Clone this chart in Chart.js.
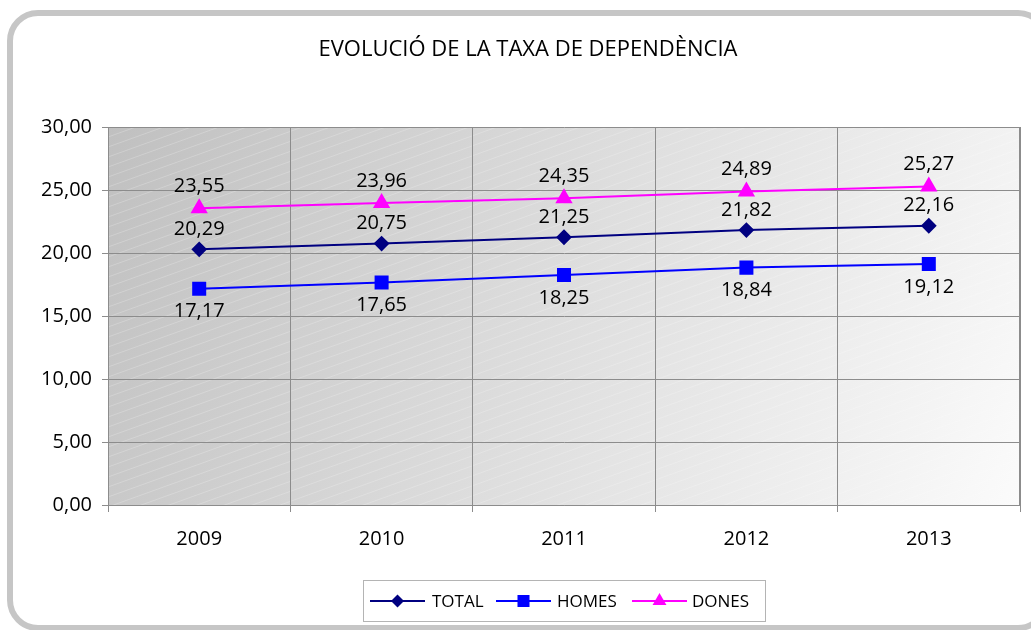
<!DOCTYPE html>
<html>
<head>
<meta charset="utf-8">
<script src="https://cdn.jsdelivr.net/npm/chart.js@4/dist/chart.umd.min.js"></script>
<style>
html,body{margin:0;padding:0;background:#fff;}
#wrap{width:1031px;height:630px;position:relative;}
</style>
</head>
<body>
<div id="wrap"><canvas id="c" width="1031" height="630"></canvas></div>
<script>
const chartTitle = 'EVOLUCIÓ DE LA TAXA DE DEPENDÈNCIA';
const categories = ['2009', '2010', '2011', '2012', '2013'];
const totalValues = [20.29, 20.75, 21.25, 21.82, 22.16];
const homesValues = [17.17, 17.65, 18.25, 18.84, 19.12];
const donesValues = [23.55, 23.96, 24.35, 24.89, 25.27];
const seriesNames = ['TOTAL', 'HOMES', 'DONES'];
const yMin = 0, yMax = 30, yStep = 5;

const NUM_FONT = '"Open Sans", sans-serif';
const fmt = v => v.toFixed(2).replace('.', ',');

const labelOffsets = [-20, 23, -22]; // TOTAL above, HOMES below, DONES above

function drawMarker(ctx, style, x, y, r) {
  ctx.beginPath();
  if (style === 'rectRot') {
    ctx.moveTo(x, y - r); ctx.lineTo(x + r, y); ctx.lineTo(x, y + r); ctx.lineTo(x - r, y);
  } else if (style === 'rect') {
    const s = r * Math.SQRT1_2;
    ctx.rect(x - s, y - s, 2 * s, 2 * s);
  } else {
    ctx.moveTo(x, y - r); ctx.lineTo(x + r * 0.866, y + r / 2); ctx.lineTo(x - r * 0.866, y + r / 2);
  }
  ctx.closePath();
  ctx.fill();
}

const framePlugin = {
  id: 'frame',
  beforeDraw(chart) {
    const ctx = chart.ctx;
    ctx.save();
    ctx.fillStyle = '#fff';
    ctx.fillRect(0, 0, chart.width, chart.height);
    ctx.strokeStyle = '#c6c6c6';
    ctx.lineWidth = 6;
    ctx.beginPath();
    ctx.roundRect(10, 13, 1036, 615, 28);
    ctx.stroke();
    const a = chart.chartArea;
    const g = ctx.createLinearGradient(a.left, a.top, a.right, a.bottom);
    g.addColorStop(0, '#c0c0c0');
    g.addColorStop(0.5, '#dedede');
    g.addColorStop(1, '#fbfbfb');
    ctx.fillStyle = g;
    ctx.fillRect(a.left, a.top, a.right - a.left, a.bottom - a.top);
    ctx.beginPath();
    ctx.rect(a.left, a.top, a.right - a.left, a.bottom - a.top);
    ctx.clip();
    ctx.strokeStyle = 'rgba(255,255,255,0.22)';
    ctx.lineWidth = 1;
    const slope = 0.36;
    const w = a.right - a.left;
    for (let y0 = a.top; y0 < a.bottom + w * slope + 10; y0 += 10) {
      ctx.beginPath();
      ctx.moveTo(a.left, y0);
      ctx.lineTo(a.right, y0 - w * slope);
      ctx.stroke();
    }
    ctx.restore();
  },
  afterDatasetsDraw(chart) {
    const ctx = chart.ctx;
    ctx.save();
    ctx.font = '20px ' + NUM_FONT;
    ctx.fillStyle = '#000';
    ctx.textAlign = 'center';
    ctx.textBaseline = 'middle';
    chart.data.datasets.forEach((ds, i) => {
      const meta = chart.getDatasetMeta(i);
      meta.data.forEach((pt, j) => {
        ctx.fillText(fmt(ds.data[j]), pt.x, pt.y + labelOffsets[i]);
      });
    });
    ctx.restore();
  },
  afterDraw(chart) {
    const ctx = chart.ctx;
    const a = chart.chartArea;
    ctx.save();
    ctx.strokeStyle = '#8c8c8c';
    ctx.lineWidth = 2;
    ctx.beginPath();
    ctx.moveTo(a.right, a.top);
    ctx.lineTo(a.right, a.bottom);
    ctx.stroke();
    ctx.font = '22px ' + NUM_FONT;
    ctx.fillStyle = '#000';
    ctx.textAlign = 'center';
    ctx.textBaseline = 'middle';
    ctx.fillText(chartTitle, 528, 50);
    ctx.strokeStyle = '#b4b4b4';
    ctx.lineWidth = 1;
    ctx.strokeRect(363.5, 580.5, 402, 41);
    ctx.font = '17px ' + NUM_FONT;
    ctx.textAlign = 'left';
    const items = [
      {x: 370, tx: 432},
      {x: 496, tx: 557},
      {x: 632, tx: 692}
    ];
    const ly = 601;
    chart.data.datasets.forEach((ds, i) => {
      const it = items[i];
      ctx.strokeStyle = ds.borderColor;
      ctx.lineWidth = 2;
      ctx.beginPath();
      ctx.moveTo(it.x, ly);
      ctx.lineTo(it.x + 55, ly);
      ctx.stroke();
      ctx.fillStyle = ds.pointBackgroundColor;
      drawMarker(ctx, ds.pointStyle, it.x + 27.5, ly, ds.pointRadius);
      ctx.fillStyle = '#000';
      ctx.fillText(ds.label, it.tx, ly + 1);
    });
    ctx.restore();
  }
};

new Chart(document.getElementById('c'), {
  type: 'line',
  data: {
    labels: categories,
    datasets: [
      {label: seriesNames[0], data: totalValues, borderColor: '#000080', backgroundColor: '#000080',
       pointBackgroundColor: '#000080', pointBorderColor: '#000080', pointStyle: 'rectRot', pointRadius: 6.5, borderWidth: 2, tension: 0},
      {label: seriesNames[1], data: homesValues, borderColor: '#0000ff', backgroundColor: '#0000ff',
       pointBackgroundColor: '#0000ff', pointBorderColor: '#0000ff', pointStyle: 'rect', pointRadius: 8.5, borderWidth: 2, tension: 0},
      {label: seriesNames[2], data: donesValues, borderColor: '#ff00ff', backgroundColor: '#ff00ff',
       pointBackgroundColor: '#ff00ff', pointBorderColor: '#ff00ff', pointStyle: 'triangle', pointRadius: 8, borderWidth: 2, tension: 0}
    ]
  },
  options: {
    responsive: false,
    animation: false,
    layout: {padding: {left: 0, right: 11, top: 127, bottom: 0}},
    plugins: {legend: {display: false}, title: {display: false}, tooltip: {enabled: false}},
    scales: {
      x: {
        offset: true,
        grid: {offset: true, color: '#8c8c8c', lineWidth: 1, tickLength: 7, drawTicks: true},
        border: {color: '#8c8c8c', width: 1},
        ticks: {color: '#000', font: {family: NUM_FONT, size: 20}, padding: 15, maxRotation: 0},
        afterFit(s) { s.height = 125; }
      },
      y: {
        min: yMin, max: yMax,
        grid: {color: '#8c8c8c', lineWidth: 1, tickLength: 6},
        border: {color: '#8c8c8c', width: 1},
        ticks: {stepSize: yStep, color: '#000', font: {family: NUM_FONT, size: 20}, padding: 10,
                callback: v => fmt(v)},
        afterFit(s) { s.width = 108; }
      }
    }
  },
  plugins: [framePlugin]
});
</script>
</body>
</html>
